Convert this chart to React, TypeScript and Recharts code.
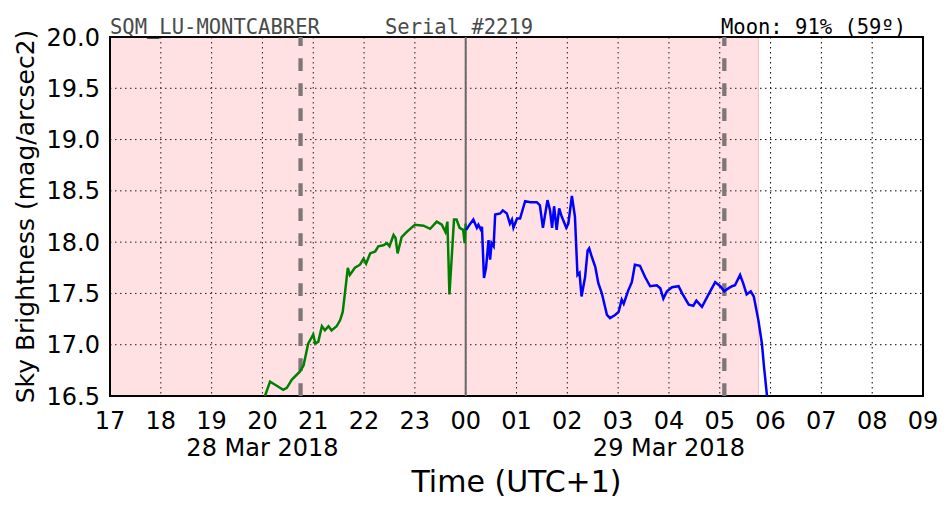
import { CartesianGrid, LineChart, Line, ReferenceArea, ReferenceLine, XAxis, YAxis } from 'recharts'

// night 28 -> 29 Mar 2018, hours after midnight of the 28th
const greenHours = [
	20.05, 20.15, 20.25, 20.41, 20.48, 20.58, 20.74, 20.81, 20.9, 21.0, 21.04, 21.1, 21.17, 21.23,
	21.3, 21.36, 21.46, 21.53, 21.58, 21.63, 21.68, 21.72, 21.82, 21.92, 21.99, 22.04, 22.12,
	22.22, 22.28, 22.38, 22.45, 22.5, 22.58, 22.62, 22.66, 22.74, 22.84, 23.0, 23.17, 23.3, 23.43,
	23.53, 23.6, 23.64, 23.68, 23.73, 23.77, 23.82, 23.88, 23.95, 23.98, 24.0,
]
const greenMag = [
	16.5, 16.64, 16.61, 16.56, 16.58, 16.66, 16.74, 16.8, 17.01, 17.1, 17.01, 17.03, 17.18, 17.14,
	17.18, 17.14, 17.18, 17.24, 17.32, 17.53, 17.75, 17.68, 17.75, 17.78, 17.84, 17.79, 17.89,
	17.91, 17.96, 17.97, 17.99, 17.96, 18.07, 18.04, 17.89, 18.05, 18.1, 18.17, 18.16, 18.13, 18.2,
	18.17, 18.1, 18.2, 17.49, 17.89, 18.22, 18.22, 18.14, 18.12, 17.99, 18.18,
]

const blueHours = [
	24.01, 24.09, 24.15, 24.22, 24.25, 24.3, 24.32, 24.36, 24.4, 24.45, 24.48, 24.51, 24.55, 24.58,
	24.68, 24.73, 24.81, 24.87, 24.91, 24.94, 25.01, 25.07, 25.17, 25.27, 25.4, 25.46, 25.52, 25.61,
	25.66, 25.7, 25.74, 25.79, 25.84, 25.89, 25.98, 26.02, 26.09, 26.15, 26.2, 26.24, 26.28, 26.35,
	26.4, 26.43, 26.48, 26.55, 26.61, 26.68, 26.78, 26.84, 26.94, 27.01, 27.07, 27.11, 27.2, 27.27,
	27.33, 27.43, 27.53, 27.63, 27.76, 27.83, 27.89, 27.96, 28.06, 28.19, 28.26, 28.39, 28.48,
	28.54, 28.65, 28.78, 28.91, 29.01, 29.09, 29.14, 29.24, 29.3, 29.4, 29.46, 29.53, 29.61, 29.67,
	29.76, 29.83, 29.87, 29.93,
]
const blueMag = [
	18.12, 18.18, 18.22, 18.14, 18.17, 18.12, 18.15, 17.65, 17.75, 18.02, 17.83, 17.99, 17.96, 18.27,
	18.28, 18.31, 18.28, 18.18, 18.22, 18.14, 18.23, 18.23, 18.4, 18.39, 18.39, 18.36, 18.14, 18.41,
	18.31, 18.14, 18.35, 18.12, 18.33, 18.25, 18.14, 18.18, 18.45, 18.25, 17.68, 17.7, 17.47, 17.66,
	17.92, 17.94, 17.86, 17.76, 17.6, 17.5, 17.29, 17.26, 17.29, 17.32, 17.44, 17.4, 17.53, 17.61,
	17.78, 17.77, 17.66, 17.57, 17.58, 17.55, 17.45, 17.52, 17.56, 17.57, 17.5, 17.39, 17.38,
	17.43, 17.37, 17.49, 17.61, 17.57, 17.52, 17.54, 17.57, 17.58, 17.68, 17.6, 17.49, 17.52, 17.47,
	17.24, 17.01, 16.79, 16.5,
]

const hourTicks = [17, 18, 19, 20, 21, 22, 23, 24, 25, 26, 27, 28, 29, 30, 31, 32, 33]
const magTicks = [16.5, 17.0, 17.5, 18.0, 18.5, 19.0, 19.5, 20.0]
const dateTicks = [20, 28]
const dateNames = ['28 Mar 2018', '29 Mar 2018']

const nightEnd = 29.76
const sunLines = [20.75, 29.09]
const midnight = 24

const greenData = greenHours.map((t, i) => ({ t, v: greenMag[i] }))
const blueData = blueHours.map((t, i) => ({ t, v: blueMag[i] }))

const sans = 'DejaVu Sans, sans-serif'
const mono = 'DejaVu Sans Mono, monospace'

const XTick = ({ x, y, payload }: any) => {
	const h = payload.value
	const idx = dateTicks.indexOf(h)
	return (
		<g>
			<text x={x} y={y + 31} textAnchor='middle' fontSize={24} fontFamily={sans} fill='#000'>
				{String(h % 24).padStart(2, '0')}
			</text>
			{idx >= 0 && (
				<text x={x} y={y + 58} textAnchor='middle' fontSize={24} fontFamily={sans} fill='#000'>
					{dateNames[idx]}
				</text>
			)}
		</g>
	)
}

export default function App() {
	return (
		<div style={{ position: 'fixed', left: 0, top: 0, width: 952, height: 512, background: '#fff' }}>
			<LineChart width={952} height={512} margin={{ top: 37, right: 29, left: 0, bottom: 0 }}>
				<CartesianGrid stroke='#000' strokeDasharray='1.5 3.5' strokeWidth={1} />
				{/* translucent so the dotted grid shows through */}
				<ReferenceArea x1={17} x2={nightEnd} y1={16.5} y2={20} fill='#ff6978' fillOpacity={0.2} stroke='#ffb4bc' strokeWidth={1} />
				<XAxis
					dataKey='t'
					type='number'
					domain={[17, 33]}
					ticks={hourTicks}
					allowDataOverflow
					height={116}
					tickSize={0}
					tickLine={false}
					axisLine={false}
					tick={<XTick />}
					interval={0}
				/>
				<YAxis
					dataKey='v'
					type='number'
					domain={[16.5, 20]}
					ticks={magTicks}
					allowDataOverflow
					width={110}
					tickSize={0}
					tickMargin={10}
					tickLine={false}
					axisLine={false}
					tickFormatter={(v: number) => v.toFixed(1)}
					tick={{ fontSize: 24, fontFamily: sans, fill: '#000' }}
					interval={0}
				/>
				{sunLines.map(x => (
					<ReferenceLine key={x} x={x} stroke='#7d7777' strokeWidth={4.3} strokeDasharray='12.7 12.3' />
				))}
				<ReferenceLine x={midnight} stroke='#666' strokeWidth={2} />
				<Line data={greenData} dataKey='v' type='linear' stroke='#008000' strokeWidth={2.5} dot={false} isAnimationActive={false} />
				<Line data={blueData} dataKey='v' type='linear' stroke='#0000ff' strokeWidth={2.5} dot={false} isAnimationActive={false} />
				<ReferenceArea x1={17} x2={33} y1={16.5} y2={20} fill='none' stroke='#000' strokeWidth={2} />
			</LineChart>
			<svg width={952} height={512} style={{ position: 'absolute', left: 0, top: 0, pointerEvents: 'none' }}>
				<text x={110} y={34} fontSize={20.5} fontFamily={mono} fill='#4a4a4a'>SQM_LU-MONTCABRER</text>
				<text x={385} y={34} fontSize={20.5} fontFamily={mono} fill='#4a4a4a'>Serial #2219</text>
				<text x={721} y={34} fontSize={20.5} fontFamily={mono} fill='#000'>Moon: 91% (59º)</text>
				<text x={516.5} y={492} textAnchor='middle' fontSize={30} fontFamily={sans} fill='#000'>Time (UTC+1)</text>
				<text
					x={0}
					y={0}
					transform='translate(34,216.5) rotate(-90)'
					textAnchor='middle'
					fontSize={25}
					fontFamily={sans}
					fill='#000'
				>
					Sky Brightness (mag/arcsec2)
				</text>
			</svg>
		</div>
	)
}
